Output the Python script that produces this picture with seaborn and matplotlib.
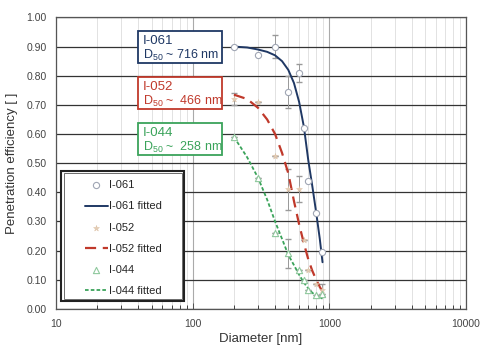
import matplotlib
matplotlib.use("Agg")
import matplotlib.pyplot as plt
from matplotlib.patches import Rectangle
from matplotlib.ticker import FixedLocator, LogLocator, NullFormatter
import pandas as pd
import seaborn as sns

# measured points
diam = [200, 300, 400, 500, 600, 650, 700, 800, 880]
eff_061 = [0.90, 0.87, 0.90, 0.745, 0.81, 0.62, 0.44, 0.33, 0.195]
err_061 = [0.0, 0.0, 0.04, 0.055, 0.03, 0.0, 0.0, 0.0, 0.0]
eff_052 = [0.72, 0.71, 0.525, 0.41, 0.41, 0.235, 0.135, 0.085, 0.065]
err_052 = [0.02, 0.0, 0.0, 0.07, 0.045, 0.0, 0.0, 0.0, 0.02]
eff_044 = [0.59, 0.45, 0.26, 0.19, 0.135, 0.10, 0.065, 0.048, 0.05]
err_044 = [0.0, 0.0, 0.0, 0.05, 0.0, 0.0, 0.0, 0.0, 0.0]

# fitted curves
fit_d = [200, 250, 300, 350, 400, 450, 500, 550, 600, 650, 700, 750, 800, 850, 890]
fit_061 = [0.90, 0.897, 0.89, 0.882, 0.87, 0.85, 0.82, 0.775, 0.71, 0.625, 0.51, 0.42, 0.33, 0.24, 0.16]
fit_052 = [0.735, 0.72, 0.69, 0.65, 0.60, 0.535, 0.465, 0.37, 0.29, 0.225, 0.17, 0.13, 0.10, 0.075, 0.06]
fit_044 = [0.59, 0.52, 0.45, 0.375, 0.30, 0.24, 0.185, 0.15, 0.117, 0.09, 0.07, 0.055, 0.045, 0.04, 0.035]

labels = ["I-061", "I-052", "I-044"]
d50 = ["716", " 466", " 258"]

navy = "#1f3864"
red = "#c0392b"
green = "#3aa35a"

sns.set_style("white")
plt.rcParams["font.family"] = ["Liberation Sans", "DejaVu Sans"]
plt.rcParams["mathtext.default"] = "regular"

fig = plt.figure(figsize=(4.8, 3.49), dpi=100)
ax = fig.add_axes([0.117, 0.115, 0.854, 0.835])

pts = pd.DataFrame({"d": diam, "e061": eff_061, "e052": eff_052, "e044": eff_044})
fits = pd.DataFrame({"d": fit_d, "f061": fit_061, "f052": fit_052, "f044": fit_044})

for e, er in [(eff_061, err_061), (eff_052, err_052), (eff_044, err_044)]:
    ax.errorbar(diam, e, yerr=er, fmt="none", ecolor="#999999", elinewidth=0.7, capsize=2, zorder=2)

sns.scatterplot(data=pts, x="d", y="e061", ax=ax, marker="o", s=20, facecolor="white",
                edgecolor="#a0a6b4", linewidth=0.8, label="I-061", zorder=4)
sns.lineplot(data=fits, x="d", y="f061", ax=ax, color=navy, lw=1.4, label="I-061 fitted", zorder=3)
sns.scatterplot(data=pts, x="d", y="e052", ax=ax, marker="*", s=20, color="#e3cdb6",
                edgecolor="#dbbd9f", linewidth=0.3, label="I-052", zorder=4)
sns.lineplot(data=fits, x="d", y="f052", ax=ax, color=red, lw=1.6, label="I-052 fitted", zorder=3)
ax.lines[-1].set_dashes([5, 3])
sns.scatterplot(data=pts, x="d", y="e044", ax=ax, marker="^", s=20, facecolor="white",
                edgecolor="#90c99e", linewidth=0.8, label="I-044", zorder=4)
sns.lineplot(data=fits, x="d", y="f044", ax=ax, color=green, lw=1.3, label="I-044 fitted", zorder=3)
ax.lines[-1].set_dashes([2, 1.2])

ax.set_xscale("log")
ax.set_xlim(10, 10000)
ax.set_ylim(0, 1.0)
ax.yaxis.set_major_locator(FixedLocator([i / 10 for i in range(11)]))
ax.set_yticklabels([f"{i / 10:.2f}" for i in range(11)])
ax.xaxis.set_major_locator(FixedLocator([10, 100, 1000, 10000]))
ax.set_xticklabels(["10", "100", "1000", "10000"])
ax.xaxis.set_minor_locator(LogLocator(base=10, subs=range(2, 10)))
ax.xaxis.set_minor_formatter(NullFormatter())

ax.grid(axis="y", which="major", color="#333333", lw=0.9)
ax.grid(axis="x", which="major", color="#aaaaaa", lw=0.8)
ax.grid(axis="x", which="minor", color="#dddddd", lw=0.6)
ax.set_axisbelow(True)
for s in ax.spines.values():
    s.set_color("#555555")
    s.set_linewidth(0.9)
ax.tick_params(axis="both", labelsize=7.5, colors="#444444")
ax.tick_params(axis="x", which="both", direction="in", bottom=True, length=3, width=0.6)
ax.tick_params(axis="x", which="major", length=4, pad=7)

ax.set_xlabel("Diameter [nm]", fontsize=9.5, color="#333333", labelpad=3)
ax.set_ylabel("Penetration efficiency [ ]", fontsize=9.5, color="#333333", labelpad=6)

# label boxes (axes fractions)
colors = [navy, red, green]
box_top = [0.952, 0.795, 0.637]
for lab, d, c, top in zip(labels, d50, colors, box_top):
    ax.add_patch(Rectangle((0.2, top - 0.108), 0.205, 0.108, transform=ax.transAxes,
                           fc="white", ec=c, lw=1.3, zorder=6))
    ax.text(0.212, top - 0.012, lab, transform=ax.transAxes, fontsize=9.5, color=c,
            va="top", ha="left", zorder=7)
    ax.text(0.212, top - 0.058, f"D$_{{50}}$ ~ {d} nm", transform=ax.transAxes, fontsize=9,
            color=c, va="top", ha="left", zorder=7)

# legend with double frame
ax.add_patch(Rectangle((0.012, 0.027), 0.3, 0.446, transform=ax.transAxes,
                       fc="white", ec="#222222", lw=1.5, zorder=6))
ax.add_patch(Rectangle((0.018, 0.035), 0.288, 0.430, transform=ax.transAxes,
                       fc="none", ec="#555555", lw=0.6, zorder=6))
leg = ax.legend(loc="upper left", bbox_to_anchor=(0.056, 0.46), fontsize=8, frameon=False,
                borderpad=0, labelspacing=1.0, handlelength=2.1, handletextpad=0.1)
leg.set_zorder(8)

fig.savefig("out.png", dpi=100)
